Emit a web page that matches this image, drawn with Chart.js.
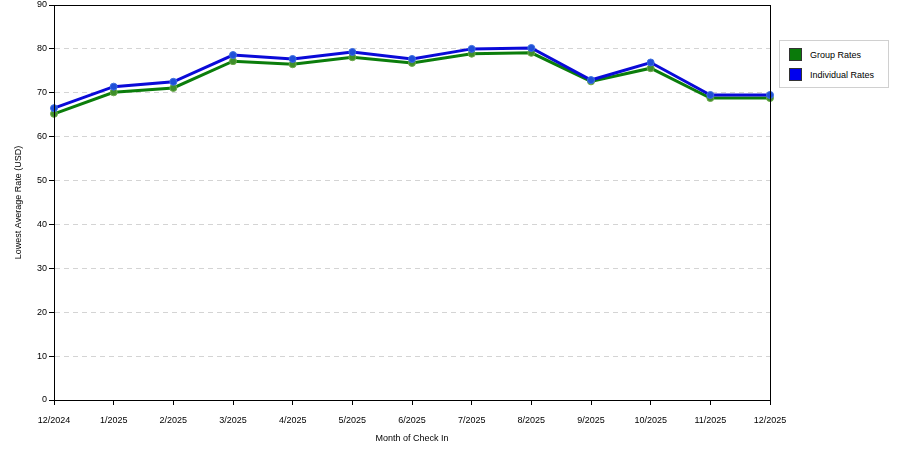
<!DOCTYPE html>
<html>
<head>
<meta charset="utf-8">
<script src="https://cdn.jsdelivr.net/npm/chart.js@4.4.1/dist/chart.umd.min.js"></script>
<style>
  body { margin: 0; background: #fff; }
  #wrap { position: relative; width: 900px; height: 450px; }
  #legend {
    position: absolute; left: 779px; top: 40px; width: 108px; height: 46px;
    border: 1px solid #d0d0d0; font-family: "Liberation Sans", Arial, sans-serif;
    font-size: 9px; color: #000; background: #fff;
  }
  .item { position: absolute; left: 9px; height: 12px; line-height: 12px; }
  .sw { position: absolute; left: 0; top: 0; width: 11px; height: 11px; border: 1px solid #333; }
  .lbl { position: absolute; left: 21px; top: 1px; white-space: nowrap; }
</style>
</head>
<body>
<div id="wrap">
  <canvas id="mycanvas" width="900" height="450"></canvas>
  <div id="legend">
    <div class="item" style="top:7px"><div class="sw" style="background:#0a7a0a"></div><div class="lbl">Group Rates</div></div>
    <div class="item" style="top:27px"><div class="sw" style="background:#0000ee"></div><div class="lbl">Individual Rates</div></div>
  </div>
</div>
<script>
var months = ['12/2024', '1/2025', '2/2025', '3/2025', '4/2025', '5/2025', '6/2025',
              '7/2025', '8/2025', '9/2025', '10/2025', '11/2025', '12/2025'];
var groupRates = [65.2, 70.1, 71.1, 77.2, 76.5, 78.1, 76.8, 78.9, 79.1, 72.6, 75.6, 68.8, 68.8];
var individualRates = [66.5, 71.4, 72.5, 78.6, 77.7, 79.3, 77.7, 80.0, 80.2, 72.9, 76.9, 69.5, 69.5];

var FONT = "'Liberation Sans', Arial, sans-serif";

// box round the plot area
var frame = {
  id: 'frame',
  afterDraw: function(chart) {
    var a = chart.chartArea, c = chart.ctx;
    c.save();
    c.strokeStyle = '#000';
    c.lineWidth = 1;
    c.strokeRect(Math.round(a.left) + 0.5, Math.round(a.top) + 0.5,
                 Math.round(a.right - a.left), Math.round(a.bottom - a.top));
    c.restore();
  }
};

var chartdata = {
  labels: months,
  datasets: [
    {
      label: 'Group Rates',
      data: groupRates,
      order: 1,
      borderColor: '#0b7d0b',
      backgroundColor: '#4f9a3a',
      borderWidth: 3,
      pointRadius: 3.5,
      pointBorderWidth: 1,
      pointBorderColor: '#6aa84a',
      pointBackgroundColor: '#3f8f2a',
      lineTension: 0,
      fill: false
    },
    {
      label: 'Individual Rates',
      data: individualRates,
      order: 0,
      borderColor: '#0a0ad8',
      backgroundColor: '#2a5ad8',
      borderWidth: 3,
      pointRadius: 3.5,
      pointBorderWidth: 1,
      pointBorderColor: '#3d6fe0',
      pointBackgroundColor: '#1f4fd8',
      lineTension: 0,
      fill: false
    }
  ]
};

var ctx = document.getElementById('mycanvas');
var LineGraph = new Chart(ctx, {
  type: 'line',
  data: chartdata,
  plugins: [frame],
  options: {
    responsive: false,
    animation: false,
    layout: { padding: { top: 4, right: 130, left: 0, bottom: 0 } },
    plugins: { legend: { display: false }, tooltip: { enabled: false } },
    scales: {
      x: {
        offset: false,
        afterFit: function(s) { s.height = 50; s.paddingLeft = 0; s.paddingRight = 0; },
        grid: { display: true, drawOnChartArea: false, drawTicks: true, tickLength: 5, color: '#000', tickColor: '#000' },
        border: { display: true, color: '#000', width: 1 },
        ticks: { color: '#000', font: { family: FONT, size: 9 }, padding: 10, maxRotation: 0, autoSkip: false },
        title: { display: true, text: 'Month of Check In', color: '#000', font: { family: FONT, size: 9 }, padding: { top: 0, bottom: 6 } }
      },
      y: {
        min: 0,
        max: 90,
        afterFit: function(s) { s.width = 54; s.paddingTop = 0; s.paddingBottom = 0; },
        grid: { color: '#d4d4d4', tickLength: 5, tickColor: '#000', tickBorderDash: [] },
        border: { display: true, color: '#000', width: 1, dash: [5, 4] },
        ticks: { stepSize: 10, color: '#000', font: { family: FONT, size: 9 }, padding: 2 },
        title: { display: true, text: 'Lowest Average Rate (USD)', color: '#000', font: { family: FONT, size: 9 }, padding: { top: 13, bottom: 0 } }
      }
    }
  }
});
</script>
</body>
</html>
